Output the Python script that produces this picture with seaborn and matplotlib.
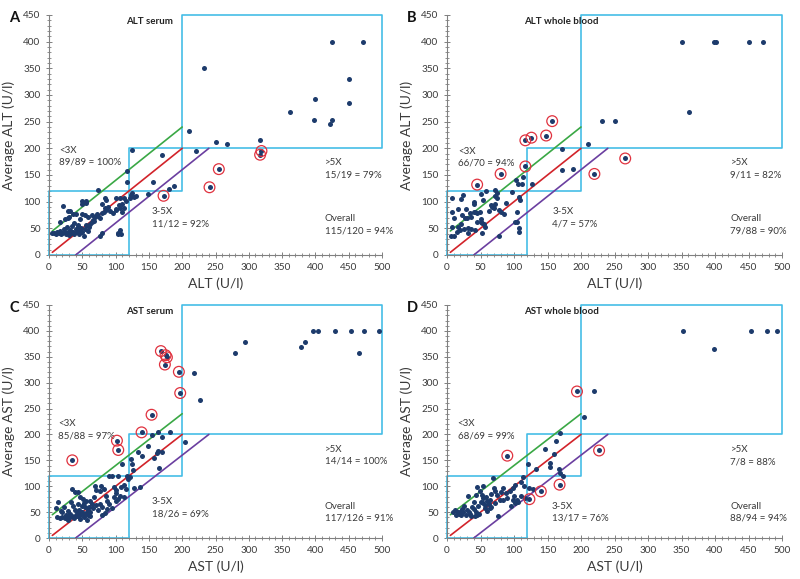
import matplotlib
matplotlib.use("Agg")
import matplotlib.pyplot as plt
import seaborn as sns
import pandas as pd
from matplotlib.ticker import MultipleLocator

sns.set_style("ticks")
plt.rcParams['font.family'] = ['Lato', 'DejaVu Sans']

# ---------------- Panel A : ALT serum ----------------
a_x = [117, 117, 73, 84, 86, 101, 106, 112, 115, 110, 105, 107, 101, 50, 55, 50, 55, 21, 79, 84,
       86, 80, 74, 69, 64, 29, 32, 40, 36, 29, 24, 16, 49, 54, 46, 59, 66, 5, 8, 10,
       12, 15, 17, 18, 20, 22, 24, 25, 27, 28, 30, 32, 33, 35, 36, 38, 40, 42, 44, 45,
       47, 48, 50, 52, 54, 55, 58, 60, 62, 65, 68, 72, 77, 82, 88, 92, 96, 100, 109, 113,
       104, 106, 108, 103, 76, 80, 30, 38, 44,
       125, 170, 188, 180, 156, 148, 125, 123, 128, 131, 122,
       232, 210, 250, 268, 221, 317, 362, 400, 398, 422, 425, 450, 450, 425, 472]
a_y = [158, 136, 122, 107, 104, 107, 107, 107, 101, 96, 93, 88, 86, 102, 102, 96, 97, 92, 95, 88,
       84, 78, 74, 72, 75, 83, 83, 76, 76, 69, 68, 62, 76, 75, 67, 72, 66, 42, 41, 40,
       44, 41, 45, 39, 42, 48, 44, 40, 52, 43, 37, 47, 41, 54, 44, 40, 49, 43, 56, 39,
       46, 51, 43, 35, 49, 57, 45, 53, 59, 61, 64, 76, 69, 80, 90, 82, 78, 84, 81, 88,
       42, 47, 40, 39, 36, 42, 72, 60, 53,
       196, 187, 129, 123, 136, 114, 116, 112, 108, 110, 106,
       350, 233, 212, 208, 195, 215, 268, 292, 253, 246, 253, 285, 330, 400, 400]
a_fail_x = [172, 319, 317, 255, 241]
a_fail_y = [111, 195, 188, 161, 127]

# ---------------- Panel B : ALT whole blood ----------------
b_x = [7, 8, 10, 7, 10, 6, 16, 17, 21, 19, 15, 21, 24, 23, 27, 30, 29, 35, 40, 36,
       32, 36, 32, 42, 40, 41, 42, 49, 50, 45, 50, 52, 52, 55, 57, 51, 54, 58, 65, 67,
       70, 72, 74, 75, 71, 72, 77, 85, 80, 77, 97, 103, 106, 112, 113, 107, 109, 105, 105, 101,
       108, 107, 62, 45, 26, 88,
       171, 171, 188, 127,
       350, 398, 402, 451, 471, 361, 232, 250, 211]
b_y = [107, 80, 70, 53, 36, 36, 86, 53, 58, 47, 44, 105, 112, 75, 69, 70, 86, 79, 81, 71,
       51, 48, 41, 47, 100, 96, 80, 81, 68, 62, 62, 60, 42, 59, 53, 114, 103, 120, 94, 90,
       89, 121, 117, 106, 111, 96, 85, 76, 80, 36, 118, 141, 133, 134, 147, 108, 104, 80, 62, 62,
       50, 43, 82, 79, 48, 98,
       199, 159, 161, 134,
       400, 400, 400, 400, 400, 269, 251, 251, 208]
b_fail_x = [45, 80, 117, 117, 126, 148, 157, 220, 266]
b_fail_y = [132, 152, 166, 215, 220, 224, 251, 152, 181]

# ---------------- Panel C : AST serum ----------------
c_x = [10, 14, 12, 16, 19, 24, 27, 33, 34, 39, 44, 36, 39, 42, 47, 51, 38, 42, 47, 52,
       57, 62, 49, 54, 58, 62, 61, 67, 69, 71, 77, 78, 82, 71, 74, 79, 86, 87, 90, 95,
       97, 100, 101, 98, 103, 104, 110, 113, 117, 119, 84, 87, 20, 25, 28, 30, 32, 35, 40, 43,
       45, 48, 50, 53, 55, 58, 60, 64, 66, 44, 52, 56, 18, 22, 28, 45, 90, 94, 100, 106,
       108, 112, 115, 76, 80,
       123, 124, 126, 122, 127, 136, 134, 140, 148, 154, 157, 162, 164, 164, 169, 181, 165, 170,
       495, 473, 453, 429, 404, 397, 385, 379, 465, 295, 279, 218, 227, 204]
c_y = [57, 69, 40, 39, 40, 39, 42, 70, 95, 89, 88, 61, 55, 50, 80, 76, 39, 42, 37, 40,
       35, 42, 61, 60, 55, 51, 71, 80, 100, 93, 91, 100, 95, 63, 55, 44, 82, 72, 119, 119,
       98, 93, 87, 80, 76, 119, 143, 80, 119, 114, 48, 56, 50, 45, 52, 38, 46, 42, 45, 47,
       43, 46, 50, 44, 48, 45, 60, 66, 58, 65, 67, 72, 53, 60, 35, 55, 65, 58, 72, 82,
       98, 103, 95, 66, 60,
       152, 143, 132, 118, 97, 98, 167, 159, 177, 198, 155, 164, 168, 204, 196, 204, 135, 166,
       400, 400, 400, 400, 400, 400, 379, 368, 357, 379, 357, 318, 267, 186]
c_fail_x = [35, 102, 104, 139, 154, 168, 175, 177, 174, 195, 197]
c_fail_y = [150, 188, 170, 204, 238, 361, 353, 349, 335, 321, 280]

# ---------------- Panel D : AST whole blood ----------------
d_x = [9, 12, 16, 18, 14, 22, 24, 21, 26, 31, 30, 33, 34, 36, 40, 44, 45, 42, 48, 45,
       49, 54, 44, 52, 53, 50, 54, 57, 60, 64, 56, 60, 64, 66, 70, 71, 74, 76, 71, 79,
       81, 83, 88, 94, 98, 101, 99, 104, 102, 106, 111, 115, 69, 110, 38, 28, 46, 58, 66, 90,
       96, 100, 117, 20, 40, 62, 84, 113,
       121, 133, 147, 154, 154, 160, 162, 167, 169, 169, 173, 123, 128,
       352, 398, 453, 477, 493, 219, 204]
d_y = [50, 55, 51, 46, 44, 56, 50, 44, 62, 81, 55, 51, 46, 42, 56, 51, 44, 43, 46, 99,
       91, 101, 83, 84, 77, 70, 67, 63, 72, 74, 57, 53, 58, 60, 97, 91, 84, 42, 68, 73,
       89, 73, 87, 91, 96, 102, 74, 74, 67, 69, 109, 100, 115, 82, 60, 45, 62, 80, 85, 78,
       62, 82, 78, 50, 70, 65, 96, 118,
       143, 133, 171, 144, 138, 162, 187, 133, 126, 203, 120, 96, 94,
       400, 365, 400, 400, 400, 284, 233]
d_fail_x = [90, 123, 140, 168, 194, 227]
d_fail_y = [159, 75, 90, 103, 283, 169]

panels = [
    dict(letter="A", title="ALT serum", analyte="ALT", x=a_x, y=a_y, fx=a_fail_x, fy=a_fail_y,
         lab=["<3X\n89/89 = 100%", "3-5X\n11/12 = 92%", ">5X\n15/19 = 79%", "Overall\n115/120 = 94%"],
         pos=[(15, 205), (154, 90), (414, 182), (414, 76)],
         rect=[49, 15, 333, 240]),
    dict(letter="B", title="ALT whole blood", analyte="ALT", x=b_x, y=b_y, fx=b_fail_x, fy=b_fail_y,
         lab=["<3X\n66/70 = 94%", "3-5X\n4/7 = 57%", ">5X\n9/11 = 82%", "Overall\n79/88 = 90%"],
         pos=[(17, 203), (157, 90), (423, 182), (423, 76)],
         rect=[447, 15, 335, 240]),
    dict(letter="C", title="AST serum", analyte="AST", x=c_x, y=c_y, fx=c_fail_x, fy=c_fail_y,
         lab=["<3X\n85/88 = 97%", "3-5X\n18/26 = 69%", ">5X\n14/14 = 100%", "Overall\n117/126 = 91%"],
         pos=[(14, 230), (154, 79), (414, 180), (414, 70)],
         rect=[49, 305, 333, 233]),
    dict(letter="D", title="AST whole blood", analyte="AST", x=d_x, y=d_y, fx=d_fail_x, fy=d_fail_y,
         lab=["<3X\n68/69 = 99%", "3-5X\n13/17 = 76%", ">5X\n7/8 = 88%", "Overall\n88/94 = 94%"],
         pos=[(16, 230), (156, 70), (423, 179), (423, 70)],
         rect=[447, 305, 335, 233]),
]

W, H = 800, 579
fig = plt.figure(figsize=(W / 100, H / 100), dpi=100)

BOX = "#45bde6"
DOT = "#1d3b6c"
RING = "#e0323f"
GREY = "#808080"
TXT = "#3a3a3a"

for p in panels:
    l, t, w, h = p["rect"]
    ax = fig.add_axes([l / W, 1 - (t + h) / H, w / W, h / H])
    df = pd.DataFrame({"x": p["x"] + p["fx"], "y": p["y"] + p["fy"]})
    dff = pd.DataFrame({"x": p["fx"], "y": p["fy"]})

    # threshold boxes
    ax.plot([0, 120, 120, 0, 0], [0, 0, 120, 120, 0], color=BOX, lw=1.2, clip_on=False, zorder=2)
    ax.plot([120, 200, 200, 120, 120], [120, 120, 200, 200, 120], color=BOX, lw=1.2, clip_on=False, zorder=2)
    ax.plot([200, 500, 500, 200, 200], [200, 200, 450, 450, 200], color=BOX, lw=1.2, clip_on=False, zorder=2)
    # agreement lines
    ax.plot([5, 200], [45, 240], color="#3aa845", lw=1.2, zorder=2)
    ax.plot([5, 200], [5, 200], color="#d2232a", lw=1.2, zorder=2)
    ax.plot([40, 240], [0, 200], color="#6b3fa0", lw=1.2, zorder=2)

    sns.scatterplot(data=df, x="x", y="y", ax=ax, color=DOT, s=13, linewidth=0, zorder=4, clip_on=False)
    sns.scatterplot(data=dff, x="x", y="y", ax=ax, s=60, facecolor="none", edgecolor=RING,
                    linewidth=0.9, zorder=5, clip_on=False)

    ax.set_xlim(0, 500)
    ax.set_ylim(0, 450)
    ax.xaxis.set_major_locator(MultipleLocator(50))
    ax.yaxis.set_major_locator(MultipleLocator(50))
    ax.xaxis.set_minor_locator(MultipleLocator(10))
    ax.yaxis.set_minor_locator(MultipleLocator(10))
    ax.tick_params(which="major", length=4, width=0.7, color=GREY, labelsize=7.2, labelcolor=TXT,
                   direction="inout", pad=4)
    ax.tick_params(which="minor", length=2.5, width=0.6, color=GREY, direction="inout")
    sns.despine(ax=ax)
    for s in ("left", "bottom"):
        ax.spines[s].set_color(GREY)
        ax.spines[s].set_linewidth(0.8)

    ax.set_xlabel(f"{p['analyte']} (U/l)", fontsize=10, color=TXT, labelpad=4)
    ax.set_ylabel(f"Average {p['analyte']} (U/l)", fontsize=10, color=TXT, labelpad=6)

    ax.text(115, 437, p["title"], fontsize=7, fontweight="bold", color="#222222", va="center", ha="left")
    for txt, (tx, ty) in zip(p["lab"], p["pos"]):
        ax.text(tx, ty, txt, fontsize=7, color=TXT, va="top", ha="left", linespacing=1.45)

    fig.text((l - 40) / W, 1 - (t + 3) / H, p["letter"], fontsize=10.5, fontweight="bold",
             color="#111111", va="center", ha="left")

fig.savefig("out.png", dpi=100)
